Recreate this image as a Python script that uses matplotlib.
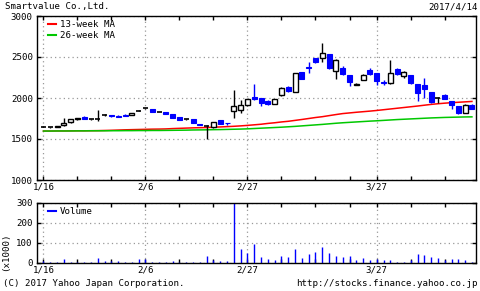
import matplotlib
matplotlib.use("Agg")
import matplotlib.pyplot as plt
from matplotlib.lines import Line2D

# daily OHLC, 1/16 - 4/14 (64 trading days)
opens = [1650, 1645, 1645, 1666, 1706, 1738, 1772, 1738, 1740, 1790,
         1795, 1785, 1792, 1795, 1843, 1872, 1865, 1832, 1825, 1805,
         1770, 1738, 1738, 1680, 1660, 1650, 1728, 1695, 1845, 1850,
         1912, 2015, 2000, 1968, 1932, 2033, 2140, 2075, 2315, 2375,
         2485, 2484, 2537, 2327, 2363, 2275, 2162, 2223, 2340, 2300,
         2195, 2180, 2355, 2263, 2283, 2170, 2162, 2073, 2000, 2040,
         1960, 1900, 1819, 1920]
highs = [1658, 1650, 1662, 1758, 1740, 1760, 1775, 1742, 1855, 1800,
         1798, 1790, 1800, 1818, 1848, 1876, 1868, 1835, 1828, 1808,
         1772, 1742, 1740, 1682, 1668, 1712, 1730, 1700, 2100, 1972,
         1990, 2175, 2005, 1972, 1992, 2135, 2145, 2310, 2320, 2445,
         2490, 2666, 2540, 2470, 2385, 2280, 2180, 2290, 2370, 2305,
         2220, 2460, 2360, 2325, 2285, 2175, 2250, 2078, 2010, 2050,
         1962, 1902, 1925, 1922]
lows = [1642, 1638, 1645, 1660, 1700, 1735, 1745, 1735, 1720, 1780,
        1772, 1765, 1780, 1792, 1840, 1868, 1828, 1828, 1808, 1758,
        1728, 1735, 1690, 1665, 1496, 1640, 1685, 1670, 1760, 1820,
        1905, 1980, 1900, 1915, 1928, 2025, 2075, 2070, 2230, 2300,
        2430, 2436, 2355, 2233, 2280, 2142, 2155, 2220, 2285, 2160,
        2160, 2165, 2275, 2250, 2175, 1960, 2000, 1945, 1940, 1990,
        1866, 1800, 1815, 1866]
closes = [1650, 1645, 1660, 1698, 1738, 1758, 1748, 1738, 1740, 1790,
          1775, 1768, 1785, 1815, 1843, 1872, 1832, 1832, 1810, 1762,
          1732, 1738, 1692, 1668, 1660, 1706, 1688, 1690, 1900, 1910,
          1985, 1990, 1940, 1928, 1988, 2121, 2090, 2303, 2235, 2365,
          2436, 2545, 2371, 2460, 2291, 2194, 2175, 2283, 2295, 2202,
          2185, 2303, 2291, 2315, 2180, 2060, 2114, 1952, 2000, 1992,
          1912, 1819, 1920, 1866]

ma13 = [1597, 1597, 1598, 1598, 1599, 1600, 1600, 1601, 1602, 1604,
        1606, 1609, 1612, 1614, 1616, 1618, 1620, 1621, 1623, 1627,
        1630, 1633, 1636, 1638, 1640, 1644, 1647, 1651, 1655, 1660,
        1666, 1673, 1680, 1690, 1698, 1708, 1716, 1727, 1738, 1750,
        1762, 1772, 1785, 1798, 1810, 1818, 1826, 1833, 1840, 1848,
        1857, 1866, 1875, 1884, 1893, 1902, 1912, 1922, 1930, 1937,
        1943, 1948, 1953, 1958]
ma26 = [1597, 1597, 1598, 1598, 1598, 1599, 1599, 1600, 1600, 1600,
        1601, 1601, 1602, 1602, 1603, 1603, 1604, 1604, 1605, 1606,
        1607, 1608, 1610, 1611, 1612, 1614, 1615, 1617, 1619, 1621,
        1624, 1628, 1632, 1636, 1640, 1644, 1649, 1654, 1660, 1666,
        1672, 1678, 1685, 1692, 1698, 1703, 1708, 1713, 1718, 1722,
        1727, 1732, 1737, 1741, 1745, 1749, 1753, 1757, 1760, 1763,
        1765, 1767, 1769, 1770]

volume = [8, 6, 5, 18, 6, 5, 7, 5, 24, 8,
          8, 10, 6, 5, 18, 20, 5, 5, 5, 8,
          5, 7, 5, 6, 33, 13, 12, 9, 300, 72,
          52, 97, 30, 18, 13, 33, 30, 70, 23, 47,
          57, 80, 50, 33, 30, 33, 13, 23, 13, 22,
          13, 13, 7, 5, 13, 43, 38, 30, 23, 17,
          18, 20, 13, 3]

label_pos = [0, 15, 30, 49]
date_labels = ["1/16", "2/6", "2/27", "3/27"]
week_pos = [0, 5, 10, 15, 20, 25, 30, 35, 40, 45, 49, 54, 59]

FONT = "DejaVu Sans Mono"
FS = 6.6
plt.rcParams["font.family"] = FONT
plt.rcParams["font.size"] = FS

fig = plt.figure(figsize=(4.8, 2.91), dpi=100)
ax = fig.add_axes([37 / 480, 111 / 291, 439 / 480, 164 / 291])
axv = fig.add_axes([37 / 480, 28 / 291, 439 / 480, 60 / 291])

n = len(closes)
idx = list(range(n))
w = 0.72
for i in idx:
    o, h, l, c = opens[i], highs[i], lows[i], closes[i]
    if c > o:
        col = "black"
        ax.vlines(i, l, h, color=col, lw=1, zorder=3)
        ax.bar(i, c - o, bottom=o, width=w, facecolor="white", edgecolor=col, lw=1, zorder=4)
    elif c < o:
        col = "#0000ff"
        ax.vlines(i, l, h, color=col, lw=1, zorder=3)
        ax.bar(i, o - c, bottom=c, width=w, facecolor=col, edgecolor=col, lw=0.8, zorder=4)
    else:
        col = "black"
        ax.vlines(i, l, h, color=col, lw=1, zorder=3)
        ax.hlines(c, i - w / 2, i + w / 2, color=col, lw=1.2, zorder=4)

ax.plot(idx, ma13, color="#ff0000", lw=1.1, zorder=2)
ax.plot(idx, ma26, color="#00c800", lw=1.1, zorder=2)

ax.set_xlim(-0.95, 63.6)
ax.set_ylim(1000, 3000)
ax.set_yticks([1000, 1500, 2000, 2500, 3000])
ax.set_xticks(label_pos)
ax.set_xticklabels(date_labels)
ax.set_xticks(week_pos, minor=True)
ax.grid(True, which="major", color="#999999", lw=0.9, linestyle=(0, (1, 2.5)))
ax.tick_params(which="both", direction="in", top=True, right=True, length=3, width=1, pad=2)
ax.tick_params(axis="y", pad=3)
ax.set_axisbelow(True)

handles = [Line2D([], [], color="#ff0000", lw=1.5), Line2D([], [], color="#00c800", lw=1.5)]
ax.legend(handles, ["13-week MA", "26-week MA"], loc="upper left", frameon=False,
          bbox_to_anchor=(0.012, 1.01), handlelength=0.8, handletextpad=0.5,
          labelspacing=0.2, borderaxespad=0.25, fontsize=FS)

axv.vlines(idx, 0, volume, color="#0000ff", lw=1)
axv.set_xlim(-0.95, 63.6)
axv.set_ylim(0, 300)
axv.set_yticks([0, 100, 200, 300])
axv.set_xticks(label_pos)
axv.set_xticklabels(date_labels)
axv.set_xticks(week_pos, minor=True)
axv.grid(True, which="major", color="#999999", lw=0.9, linestyle=(0, (1, 2.5)))
axv.tick_params(which="both", direction="in", top=True, right=True, length=3, width=1, pad=2)
axv.tick_params(axis="y", pad=3)
axv.set_axisbelow(True)
axv.legend([Line2D([], [], color="#0000ff", lw=1.5)], ["Volume"], loc="upper left",
           bbox_to_anchor=(0.012, 1.03), frameon=False, handlelength=0.8,
           handletextpad=0.5, borderaxespad=0.25, fontsize=FS)

for a in (ax, axv):
    for s in a.spines.values():
        s.set_linewidth(1)

fig.text(5 / 480, 1 - 7 / 291, "Smartvalue Co.,Ltd.", ha="left", va="center", fontsize=FS)
fig.text(478 / 480, 1 - 7 / 291, "2017/4/14", ha="right", va="center", fontsize=FS)
fig.text(6 / 480, 1 - 252 / 291, "(x1000)", ha="center", va="center", rotation=90, fontsize=FS)
fig.text(3 / 480, 1 - 284 / 291, "(C) 2017 Yahoo Japan Corporation.", ha="left", va="center", fontsize=FS)
fig.text(478 / 480, 1 - 284 / 291, "http://stocks.finance.yahoo.co.jp", ha="right", va="center", fontsize=FS)

fig.savefig("out.png", dpi=100)
